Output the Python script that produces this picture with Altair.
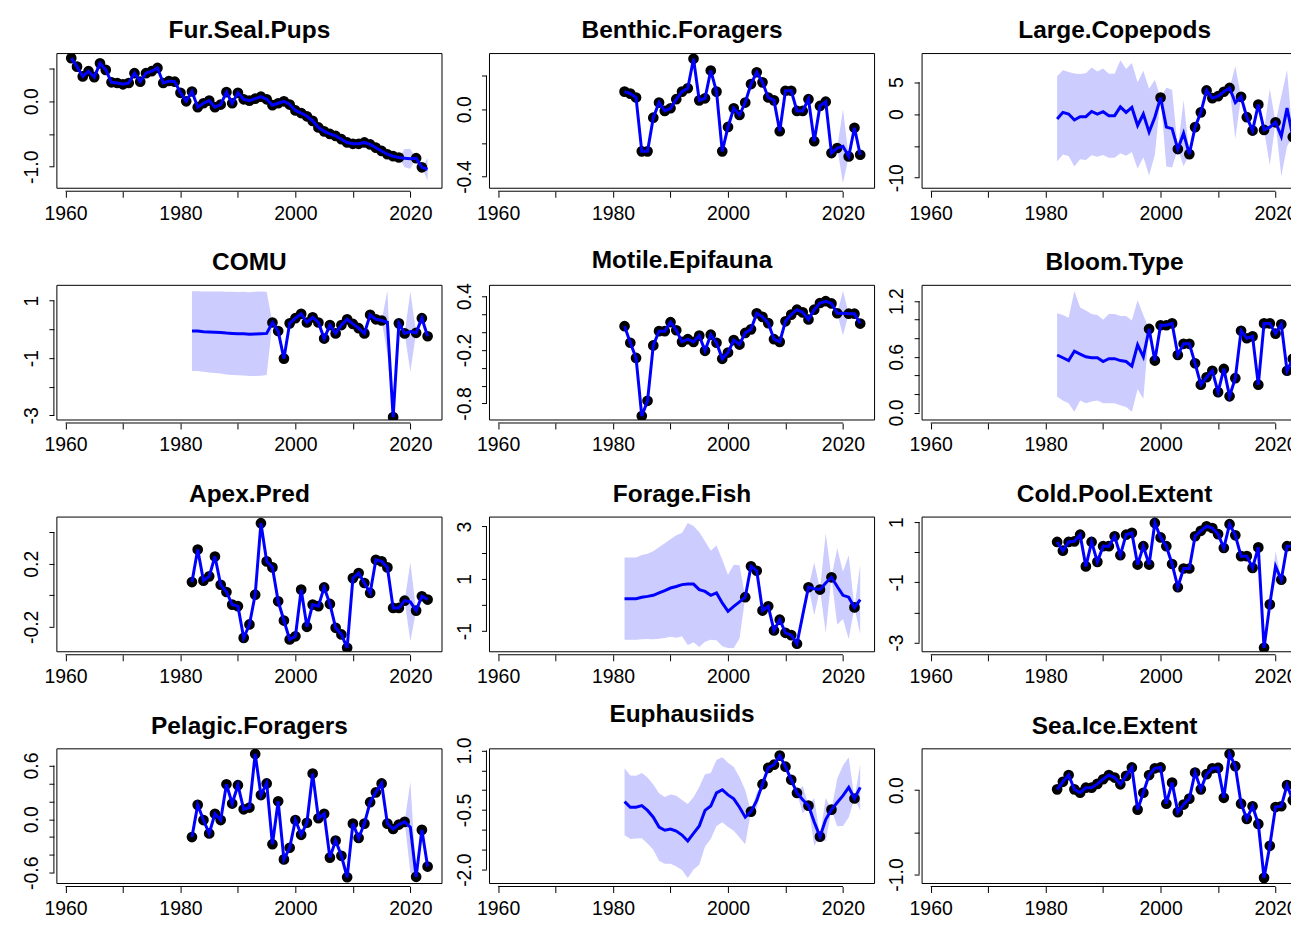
import altair as alt
import pandas as pd

# ---------------- data ----------------
YEARS_LONG = list(range(1961, 2024))
YEARS = list(range(1982, 2024))

FUR_OBS = [0.66, 0.53, 0.38, 0.46, 0.37, 0.58, 0.48, 0.29, 0.28, 0.26,
           0.28, 0.43, 0.30, 0.43, 0.46, 0.51, 0.28, 0.31, 0.30, 0.13,
           0.00, 0.15, -0.09, -0.03, 0.01, -0.09, -0.05, 0.14, -0.03, 0.13,
           0.03, 0.01, 0.04, 0.07, 0.03, -0.06, -0.03, 0.00, -0.05, -0.14,
           -0.18, -0.23, -0.30, -0.40, -0.46, -0.50, -0.53, -0.58, -0.63, -0.65,
           -0.65, -0.63, -0.66, -0.71, -0.76, -0.81, -0.84, -0.86, None, None,
           -0.87, -1.01, None]
FUR_GAP_FIT = {2019: -0.87, 2020: -0.88, 2023: -1.04}
FUR_GAP_CI = {2019: 0.14, 2020: 0.15, 2023: 0.17}

BEN_OBS = [0.105, 0.093, 0.07, -0.25, -0.25, -0.05, 0.04, -0.01, 0.006, 0.06,
           0.105, 0.125, 0.30, 0.053, 0.065, 0.23, 0.105, -0.25, -0.105, 0.006,
           -0.034, 0.04, 0.15, 0.22, 0.16, 0.07, 0.053, -0.13, 0.11, 0.11,
           -0.01, -0.01, 0.06, -0.19, 0.02, 0.045, -0.26, -0.23, None, -0.28,
           -0.11, -0.27]
BEN_GAP_FIT = {2020: -0.22}
BEN_GAP_CI = {2020: 0.22}

COP_OBS = [None] * 18 + [2.58, None, None, -5.5, None, -6.3, -2.06, 0.26, 3.7, 2.5,
                         2.8, 3.5, 4.1, None, 2.7, -0.5, -2.6, 1.5, -2.5, None,
                         -1.3, None, None, -3.6]
COP_GAP_FIT = {1982: -0.77, 1983: 0.26, 1984: 0.0, 1985: -0.93, 1986: -0.41, 1987: -0.41,
               1988: 0.41, 1989: 0.0, 1990: 0.36, 1991: -0.26, 1992: -0.26, 1993: 1.13,
               1994: 0.26, 1995: 1.03, 1996: -1.8, 1997: 0.0, 1998: -2.84, 1999: -0.5,
               2001: -2.06, 2002: -2.3, 2004: -3.0, 2013: 1.8, 2019: -2.06, 2021: -3.5,
               2022: 0.93}
COP_GAP_CI = {1982: 6.7, 1983: 6.6, 1984: 6.6, 1985: 7.3, 1986: 6.7, 1987: 6.8,
              1988: 6.9, 1989: 6.7, 1990: 6.8, 1991: 6.6, 1992: 6.6, 1993: 7.3,
              1994: 6.8, 1995: 7.0, 1996: 6.8, 1997: 6.8, 1998: 6.8, 1999: 5.9,
              2001: 6.2, 2002: 6.1, 2004: 5.2, 2013: 5.7, 2019: 6.0, 2021: 6.3,
              2022: 6.0}

COMU_OBS = [None] * 14 + [0.24, -0.06, -1.02, 0.21, 0.39, 0.54, 0.24, 0.42, 0.24, -0.32,
                          0.15, -0.14, 0.15, 0.35, 0.19, 0.04, -0.14, 0.51, 0.35, 0.31,
                          None, -3.06, 0.21, -0.14, None, -0.12, 0.39, -0.24]
COMU_GAP_FIT = {1982: -0.06, 1983: -0.06, 1984: -0.08, 1985: -0.09, 1986: -0.10,
                1987: -0.11, 1988: -0.13, 1989: -0.14, 1990: -0.15, 1991: -0.15,
                1992: -0.17, 1993: -0.16, 1994: -0.15, 1995: -0.14, 2016: 0.25,
                2020: -0.08}
COMU_GAP_CI = {1982: 1.39, 1983: 1.39, 1984: 1.40, 1985: 1.41, 1986: 1.42, 1987: 1.43,
               1988: 1.44, 1989: 1.45, 1990: 1.45, 1991: 1.46, 1992: 1.46, 1993: 1.47,
               1994: 1.47, 1995: 1.45, 2016: 1.1, 2020: 1.4}

MOT_OBS = [0.065, -0.12, -0.29, -0.94, -0.77, -0.15, 0.01, 0.01, 0.11, 0.02,
           -0.11, -0.08, -0.11, -0.04, -0.21, -0.03, -0.12, -0.30, -0.23, -0.09,
           -0.14, -0.01, 0.03, 0.21, 0.17, 0.10, -0.08, -0.11, 0.12, 0.195,
           0.25, 0.22, 0.14, 0.25, 0.325, 0.345, 0.32, 0.21, None, 0.205,
           0.205, 0.095]
MOT_GAP_FIT = {2020: 0.21}
MOT_GAP_CI = {2020: 0.25}

BLOOM_OBS = [None] * 16 + [0.90, 0.56, 0.94, 0.94, 0.96, 0.62, 0.74, 0.74, 0.53, 0.30,
                           0.38, 0.45, 0.22, 0.47, 0.175, 0.37, 0.88, 0.80, 0.82, 0.30,
                           0.96, 0.96, 0.85, 0.95, 0.45, 0.58]
BLOOM_GAP_FIT = {1982: 0.62, 1983: 0.59, 1984: 0.56, 1985: 0.66, 1986: 0.63, 1987: 0.60,
                 1988: 0.59, 1989: 0.59, 1990: 0.55, 1991: 0.58, 1992: 0.58, 1993: 0.56,
                 1994: 0.55, 1995: 0.50, 1996: 0.73, 1997: 0.60}
BLOOM_GAP_CI = {1982: 0.45, 1983: 0.46, 1984: 0.46, 1985: 0.65, 1986: 0.50, 1987: 0.50,
                1988: 0.47, 1989: 0.46, 1990: 0.45, 1991: 0.48, 1992: 0.48, 1993: 0.48,
                1994: 0.49, 1995: 0.49, 1996: 0.48, 1997: 0.45}

APEX_OBS = [0.084, 0.29, 0.093, 0.12, 0.246, 0.067, 0.021, -0.059, -0.069, -0.27,
            -0.185, 0.004, 0.457, 0.215, 0.177, -0.038, -0.16, -0.28, -0.26, 0.036,
            -0.20, -0.059, -0.069, 0.05, -0.055, -0.206, -0.248, -0.333, 0.109, 0.141,
            0.078, 0.015, 0.225, 0.215, 0.177, -0.08, -0.08, -0.034, None, -0.097,
            -0.006, -0.027]
APEX_GAP_FIT = {2020: -0.042}
APEX_GAP_CI = {2020: 0.25}

FOR_OBS = [None] * 21 + [0.30, 1.48, 1.31, -0.21, -0.05, -0.97, -0.56, -1.06, -1.15, -1.48,
                         None, 0.68, None, 0.59, None, 1.06, None, None, None, -0.09,
                         None]
FOR_GAP_FIT = {1982: 0.244, 1983: 0.244, 1984: 0.244, 1985: 0.30, 1986: 0.33, 1987: 0.37,
               1988: 0.46, 1989: 0.55, 1990: 0.65, 1991: 0.71, 1992: 0.78, 1993: 0.80,
               1994: 0.80, 1995: 0.59, 1996: 0.52, 1997: 0.37, 1998: 0.46, 1999: 0.08,
               2000: -0.24, 2001: -0.05, 2002: 0.12, 2013: -0.38, 2015: 0.62, 2017: 0.84,
               2019: 0.71, 2020: 0.37, 2021: 0.30, 2023: 0.21}
FOR_GAP_CI = {1982: 1.57, 1983: 1.57, 1984: 1.57, 1985: 1.61, 1986: 1.63, 1987: 1.68,
              1988: 1.75, 1989: 1.81, 1990: 1.86, 1991: 1.96, 1992: 1.97, 1993: 2.33,
              1994: 2.22, 1995: 2.19, 1996: 1.92, 1997: 1.70, 1998: 1.81, 1999: 1.65,
              2000: 1.40, 2001: 1.59, 2002: 1.40, 2013: 0.3, 2015: 1.0, 2017: 1.9,
              2019: 1.46, 2020: 0.9, 2021: 1.6, 2023: 1.33}

COLD_OBS = [0.34, 0.05, 0.34, 0.36, 0.58, -0.47, 0.34, -0.32, 0.20, 0.20,
            0.53, -0.10, 0.58, 0.64, -0.41, 0.20, -0.41, 0.97, 0.49, 0.20,
            -0.39, -1.16, -0.54, -0.54, 0.53, 0.71, 0.86, 0.80, 0.60, 0.14,
            0.93, 0.56, -0.13, -0.13, -0.52, 0.16, -3.17, -1.73, None, -0.91,
            0.20, 0.20]
COLD_GAP_FIT = {2020: -0.47}
COLD_GAP_CI = {2020: 0.5}

PEL_OBS = [-0.20, 0.16, -0.01, -0.16, 0.06, -0.01, 0.39, 0.175, 0.38, 0.11,
           0.13, 0.73, 0.27, 0.40, -0.28, 0.20, -0.45, -0.32, -0.01, -0.175,
           -0.04, 0.51, 0.01, 0.06, -0.43, -0.24, -0.41, -0.65, -0.05, -0.21,
           -0.05, 0.19, 0.30, 0.40, -0.05, -0.11, -0.06, -0.03, None, -0.645,
           -0.12, -0.53]
PEL_GAP_FIT = {2020: -0.09}
PEL_GAP_CI = {2020: 0.51}

EUP_OBS = [None] * 22 + [-0.54, None, 0.15, 0.56, 0.64, 0.87, 0.59, 0.26, -0.07, None,
                         -0.39, None, -1.17, None, -0.49, None, None, None, -0.21, None]
EUP_GAP_FIT = {1982: -0.29, 1983: -0.43, 1984: -0.43, 1985: -0.39, 1986: -0.51,
               1987: -0.68, 1988: -0.93, 1989: -1.01, 1990: -0.98, 1991: -1.03,
               1992: -1.13, 1993: -1.28, 1994: -1.09, 1995: -0.90, 1996: -0.51,
               1997: -0.40, 1998: -0.07, 1999: 0.01, 2000: -0.12, 2001: -0.22,
               2002: -0.43, 2003: -0.68, 2005: -0.26, 2013: -0.24, 2015: -0.80,
               2017: -0.74, 2019: -0.31, 2020: -0.14, 2021: 0.07, 2023: 0.07}
EUP_GAP_CI = {1982: 0.84, 1983: 0.80, 1984: 0.79, 1985: 0.82, 1986: 0.83, 1987: 0.82,
              1988: 0.85, 1989: 0.84, 1990: 0.87, 1991: 0.89, 1992: 0.88, 1993: 0.93,
              1994: 0.91, 1995: 0.98, 1996: 0.91, 1997: 0.83, 1998: 0.83, 1999: 0.82,
              2000: 0.81, 2001: 0.80, 2002: 0.76, 2003: 0.68, 2005: 0.2, 2013: 0.35,
              2015: 0.6, 2017: 0.55, 2019: 0.6, 2020: 0.76, 2021: 0.76, 2023: 0.58}

ICE_OBS = [0.01, 0.10, 0.18, 0.01, -0.03, 0.03, 0.03, 0.075, 0.13, 0.18,
           0.15, 0.07, 0.17, 0.27, -0.23, -0.03, 0.18, 0.26, 0.27, -0.16,
           0.09, -0.26, -0.17, -0.10, 0.21, 0.01, 0.19, 0.26, 0.265, -0.09,
           0.43, 0.285, -0.16, -0.34, -0.19, -0.40, -1.04, -0.66, -0.20, -0.19,
           0.06, -0.12]
ICE_GAP_FIT = {}
ICE_GAP_CI = {}

X_TICKS = [1960, 1970, 1980, 1990, 2000, 2010, 2020]
X_LABELS = [1960, 1980, 2000, 2020]

# name, years, obs, gap fit, gap ci, y domain, y ticks, labelled ticks
PANELS = [
    ("Fur.Seal.Pups", YEARS_LONG, FUR_OBS, FUR_GAP_FIT, FUR_GAP_CI,
     [-1.33, 0.73], [-1.0, -0.5, 0.0, 0.5], [(0.0, "0.0"), (-1.0, "-1.0")]),
    ("Benthic.Foragers", YEARS, BEN_OBS, BEN_GAP_FIT, BEN_GAP_CI,
     [-0.469, 0.331], [-0.4, -0.2, 0.0, 0.2], [(0.0, "0.0"), (-0.4, "-0.4")]),
    ("Large.Copepods", YEARS, COP_OBS, COP_GAP_FIT, COP_GAP_CI,
     [-11.66, 9.5], [-10, -5, 0, 5], [(5, "5"), (0, "0"), (-10, "-10")]),
    ("COMU", YEARS, COMU_OBS, COMU_GAP_FIT, COMU_GAP_CI,
     [-3.16, 1.536], [-3, -2, -1, 0, 1], [(1, "1"), (-1, "-1"), (-3, "-3")]),
    ("Motile.Epifauna", YEARS, MOT_OBS, MOT_GAP_FIT, MOT_GAP_CI,
     [-0.985, 0.523], [-0.8, -0.6, -0.4, -0.2, 0.0, 0.2, 0.4],
     [(0.4, "0.4"), (-0.2, "-0.2"), (-0.8, "-0.8")]),
    ("Bloom.Type", YEARS, BLOOM_OBS, BLOOM_GAP_FIT, BLOOM_GAP_CI,
     [-0.08, 1.37], [0.0, 0.2, 0.4, 0.6, 0.8, 1.0, 1.2],
     [(1.2, "1.2"), (0.6, "0.6"), (0.0, "0.0")]),
    ("Apex.Pred", YEARS, APEX_OBS, APEX_GAP_FIT, APEX_GAP_CI,
     [-0.358, 0.496], [-0.2, 0.0, 0.2, 0.4], [(0.2, "0.2"), (-0.2, "-0.2")]),
    ("Forage.Fish", YEARS, FOR_OBS, FOR_GAP_FIT, FOR_GAP_CI,
     [-1.785, 3.36], [-1, 0, 1, 2, 3], [(3, "3"), (1, "1"), (-1, "-1")]),
    ("Cold.Pool.Extent", YEARS, COLD_OBS, COLD_GAP_FIT, COLD_GAP_CI,
     [-3.30, 1.165], [-3, -2, -1, 0, 1], [(1, "1"), (-1, "-1"), (-3, "-3")]),
    ("Pelagic.Foragers", YEARS, PEL_OBS, PEL_GAP_FIT, PEL_GAP_CI,
     [-0.72, 0.787], [-0.6, -0.4, -0.2, 0.0, 0.2, 0.4, 0.6],
     [(0.6, "0.6"), (0.0, "0.0"), (-0.6, "-0.6")]),
    ("Euphausiids", YEARS, EUP_OBS, EUP_GAP_FIT, EUP_GAP_CI,
     [-2.35, 1.04], [-2.0, -1.5, -1.0, -0.5, 0.0, 0.5, 1.0],
     [(1.0, "1.0"), (-0.5, "-0.5"), (-2.0, "-2.0")]),
    ("Sea.Ice.Extent", YEARS, ICE_OBS, ICE_GAP_FIT, ICE_GAP_CI,
     [-1.107, 0.491], [-1.0, -0.5, 0.0], [(0.0, "0.0"), (-1.0, "-1.0")]),
]

# ---------------- layout / style ----------------
W, H = 386, 135
W_CUT = 375                      # right column is cut by the picture's edge
X_DOMAIN = [1958.5, 2025.5]
X_DOMAIN_CUT = [1958.5, 1958.5 + 67.0 * W_CUT / W]
AX_OFF = 3
FONT = "Liberation Sans"


def label_expr(pairs):
    expr = "''"
    for v, t in reversed(pairs):
        expr = f"abs(datum.value - ({v})) < 1e-9 ? '{t}' : ({expr})"
    return expr


def make_panel(idx, name, years, obs, gfit, gci, ydom, yticks, ylabels):
    cut = (idx % 3 == 2)
    w = W_CUT if cut else W
    recs = []
    for yr, o in zip(years, obs):
        f = o if o is not None else gfit[yr]
        h = gci.get(yr, 0.0)
        recs.append({"year": yr, "obs": o, "fit": f, "lo": f - h, "hi": f + h})
    df = pd.DataFrame(recs)

    xs = alt.Scale(domain=X_DOMAIN_CUT if cut else X_DOMAIN, nice=False, zero=False)
    ys = alt.Scale(domain=ydom, nice=False, zero=False)
    xax = alt.Axis(values=X_TICKS, labelExpr=label_expr([(v, str(v)) for v in X_LABELS]),
                   offset=AX_OFF, tickSize=6, labelPadding=7, title=None,
                   labelOverlap=False, labelFlush=False)
    yax = alt.Axis(values=yticks, labelExpr=label_expr(ylabels), offset=AX_OFF,
                   tickSize=5, labelPadding=11.5, labelAngle=270, labelAlign="center",
                   labelBaseline="alphabetic", title=None, labelOverlap=False,
                   labelFlush=False)

    base = alt.Chart(df)
    band = base.mark_area(color="#CCCCFF", opacity=1, clip=True).encode(
        x=alt.X("year:Q", scale=xs, axis=xax),
        y=alt.Y("lo:Q", scale=ys, axis=yax), y2="hi:Q")
    pts = base.transform_filter("isValid(datum.obs)").mark_circle(
        size=115, color="black", opacity=1, clip=True).encode(
        x=alt.X("year:Q", scale=xs, axis=xax), y=alt.Y("obs:Q", scale=ys, axis=yax))
    line = base.mark_line(color="#0000FF", strokeWidth=3, clip=True).encode(
        x=alt.X("year:Q", scale=xs, axis=xax), y=alt.Y("fit:Q", scale=ys, axis=yax))
    xline = alt.Chart(pd.DataFrame({"a": [X_TICKS[0]], "b": [X_TICKS[-1]]})).mark_rule(
        color="black", strokeWidth=1).encode(
        x=alt.X("a:Q", scale=xs, axis=xax), x2="b:Q", y=alt.value(H + AX_OFF))
    yline = alt.Chart(pd.DataFrame({"a": [min(yticks)], "b": [max(yticks)]})).mark_rule(
        color="black", strokeWidth=1).encode(
        y=alt.Y("a:Q", scale=ys, axis=yax), y2="b:Q", x=alt.value(-AX_OFF))

    # plot box (R's box()); the right side of the last column is outside the picture
    fb = alt.Chart(pd.DataFrame({"k": [0]}))
    frame = [
        fb.mark_rule(color="black", strokeWidth=1).encode(
            x=alt.value(0), x2=alt.value(w), y=alt.value(0)),
        fb.mark_rule(color="black", strokeWidth=1).encode(
            x=alt.value(0), x2=alt.value(w), y=alt.value(H)),
        fb.mark_rule(color="black", strokeWidth=1).encode(
            x=alt.value(0), y=alt.value(0), y2=alt.value(H)),
    ]
    if not cut:
        frame.append(fb.mark_rule(color="black", strokeWidth=1).encode(
            x=alt.value(w), y=alt.value(0), y2=alt.value(H)))

    title_kw = dict(text=name, font=FONT, fontSize=24.5, fontWeight="bold",
                    color="black", anchor="middle", offset=9.1)
    if cut:
        title_kw["dx"] = (W - W_CUT) / 2.0

    return alt.layer(band, pts, line, xline, yline, *frame).properties(
        width=w, height=H, title=alt.TitleParams(**title_kw))


charts = [make_panel(i, *p) for i, p in enumerate(PANELS)]
chart = alt.concat(*charts, columns=3, spacing={"row": 97.3, "column": 47.6},
                   bounds="flush").resolve_scale(
    x="independent", y="independent").properties(
    padding={"left": 13, "top": 8.6, "right": -7, "bottom": 0},
    background="white"
).configure_view(stroke=None).configure_axis(
    labelFont=FONT, labelFontSize=19.5, labelColor="black", tickColor="black",
    tickWidth=1, domain=False, grid=False)

chart.save("out.html", embed_options={"renderer": "svg", "actions": False})
